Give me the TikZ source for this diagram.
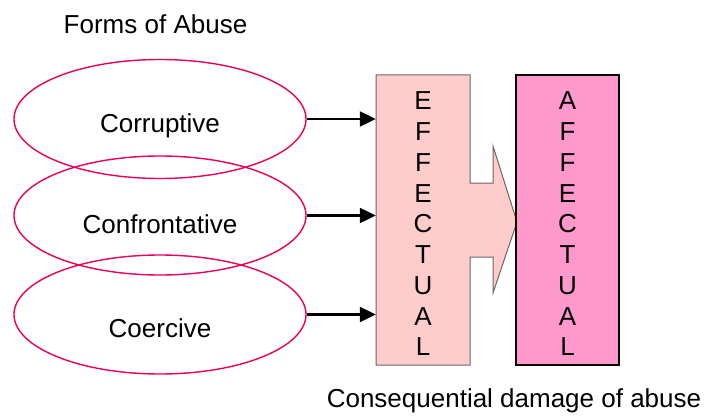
\documentclass[tikz,border=0pt]{standalone}
\usepackage{fontspec}
\setmainfont{Liberation Sans}
\usetikzlibrary{shapes.geometric,arrows.meta}
\definecolor{abuseline}{RGB}{235,0,90}
\definecolor{effectfill}{RGB}{255,204,204}
\definecolor{affectfill}{RGB}{255,153,204}
\definecolor{effectline}{RGB}{110,100,100}

\begin{document}
\begin{tikzpicture}[x=1pt,y=-1pt]
    \tikzset{every node/.append style={inner sep=0pt, font=\fontsize{26}{30.75}\selectfont},
      form/.style={ellipse, draw=abuseline, line width=1.4pt, minimum width=292, minimum height=119},
      feed/.style={line width=2.2pt, -{Triangle[length=16pt,width=15pt]}}}
    \useasboundingbox (0,0) rectangle (709,417);
    \node (title) at (155.5,24) {Forms of Abuse};
    \node (caption) at (514,401) {Consequential damage of abuse};
    % the effectual box with its arrow
    \draw [effectline, fill=effectfill, line width=1pt] (376,75) -- (470,75) -- (470,183) -- (493,183)
      -- (493,146) -- (517,222) -- (493,293) -- (493,257) -- (470,257) -- (470,365) -- (376,365) -- cycle;
    \node [minimum width=94, minimum height=290] (effectual) at (423,220) {};
    \node [align=center] at (423,224) {E\\F\\F\\E\\C\\T\\U\\A\\L};
    \node [draw=black, fill=affectfill, line width=1.6pt, minimum width=103, minimum height=290] (affectual) at (567.5,220) {};
    \node [align=center] at (567.5,224) {A\\F\\F\\E\\C\\T\\U\\A\\L};
    % forms
    \node [form] (coercive) at (160,314.5) {};
    \node [form] (confrontative) at (160,215.5) {};
    \node [form] (corruptive) at (160,119) {};
    \node at (160,126) {Corruptive};
    \node at (160,224) {Confrontative};
    \node at (160,328) {Coercive};
    \draw [feed] (corruptive.east) -- (corruptive.east -| effectual.west);
    \draw [feed] (confrontative.east) -- (confrontative.east -| effectual.west);
    \draw [feed] (coercive.east) -- (coercive.east -| effectual.west);
\end{tikzpicture}
\end{document}
